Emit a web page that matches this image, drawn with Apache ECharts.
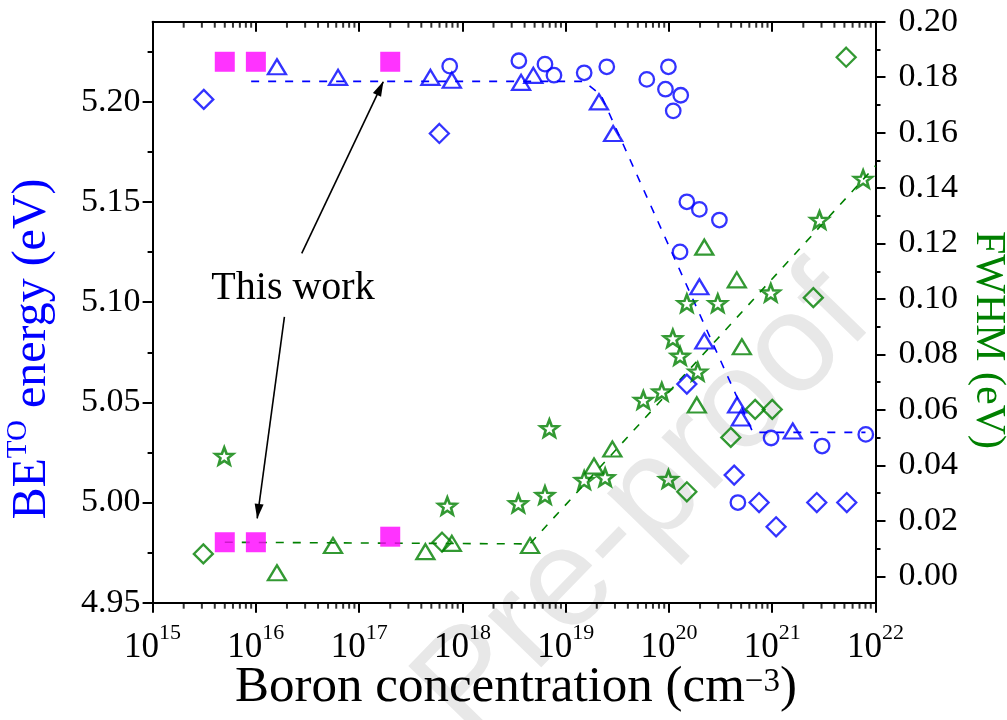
<!DOCTYPE html>
<html>
<head>
<meta charset="utf-8">
<script src="https://cdn.jsdelivr.net/npm/echarts@6/dist/echarts.min.js"></script>
<style>
html,body{margin:0;padding:0;background:#fff;}
#chart{width:1007px;height:720px;}
</style>
</head>
<body>
<div id="chart"></div>
<script>
// BE^TO energy (left axis) and FWHM (right axis) against boron concentration

// --- this work (filled squares) ---
const thisWorkX    = [5e15, 1e16, 2e17];
const thisWorkBE   = [5.22, 5.22, 5.22];
const thisWorkFWHM = [0.0123, 0.0123, 0.0143];

// --- BE^TO energy, literature (blue, hollow) ---
const beTriX = [1.6e16, 6.25e16, 4.9e17, 7.9e17, 3.7e18, 4.86e18, 2.1e19, 2.88e19, 1.97e20, 2.2e20, 4.57e20, 4.97e20, 1.58e21];
const beTriY = [5.2175, 5.2122, 5.2122, 5.2108, 5.2097, 5.2132, 5.2000, 5.1842, 5.1077, 5.0806, 5.0487, 5.0422, 5.0357];

const beCircX = [7.53e17, 3.52e18, 6.3e18, 7.7e18, 1.51e19, 2.5e19, 6.1e19, 9.88e19, 9.25e19, 1.3e20, 1.1e20, 1.49e20, 1.97e20, 3.08e20, 1.28e20, 9.75e20, 3.04e21, 8.05e21, 4.65e20];
const beCircY = [5.2178, 5.2205, 5.2188, 5.2133, 5.2145, 5.2175, 5.2112, 5.2175, 5.2063, 5.2033, 5.1955, 5.1501, 5.1463, 5.1410, 5.1251, 5.0322, 5.0282, 5.0340, 5.0000];

const beDiaX = [3.13e15, 5.98e17, 1.49e20, 4.28e20, 7.46e20, 1.09e21, 2.7e21, 5.27e21];
const beDiaY = [5.2012, 5.1842, 5.0591, 5.0137, 5.0000, 4.9879, 5.0000, 5.0000];

// guide line through the BE data
const beGuideX = [9e15, 1.5e19, 2.2e19, 6.5e20, 8e21];
const beGuideY = [5.2102, 5.2102, 5.2033, 5.0350, 5.0350];

// --- FWHM, literature (green, hollow) ---
const fwStarX = [4.94e15, 7.14e17, 3.48e18, 6.3e18, 6.95e18, 1.51e19, 2.41e19, 5.65e19, 8.52e19, 9.88e19, 1.9e20, 1.28e20, 1.09e20, 1.49e20, 2.97e20, 9.68e20, 2.87e21, 7.59e21];
const fwStarY = [0.0434, 0.0254, 0.0263, 0.0293, 0.0534, 0.0347, 0.0357, 0.0636, 0.0666, 0.0351, 0.0738, 0.0795, 0.0858, 0.0985, 0.0985, 0.1023, 0.1285, 0.1433];

const fwTriX = [1.6e16, 5.58e16, 4.38e17, 7.9e17, 4.52e18, 1.88e19, 2.83e19, 1.86e20, 2.2e20, 4.54e20, 5.08e20];
const fwTriY = [0.0013, 0.0111, 0.0089, 0.0119, 0.0111, 0.0398, 0.0459, 0.0618, 0.1187, 0.1069, 0.0828];

const fwDiaX = [3.1e15, 6.35e17, 1.49e20, 3.97e20, 6.83e20, 1.0e21, 2.5e21, 5.2e21];
const fwDiaY = [0.0081, 0.0123, 0.0305, 0.0501, 0.0602, 0.0602, 0.1005, 0.1872];

// guide line through the FWHM data
const fwGuideX = [5e15, 4.5e18, 1e22];
const fwGuideY = [0.0123, 0.0117, 0.148];

// --- "This work" arrows (tail -> tip), in BE axis units ---
const arrowTailX = [2.78e16, 1.89e16];
const arrowTailY = [5.1244, 5.0927];
const arrowTipX  = [1.71e17, 1.03e16];
const arrowTipY  = [5.2100, 4.9921];

// --- axis ticks ---
const xDecades = [15, 16, 17, 18, 19, 20, 21];
const xMinorMultipliers = [2, 3, 4, 5, 6, 7, 8, 9];
const leftTicks = [4.95, 5.00, 5.05, 5.10, 5.15, 5.20];
const leftMinorTicks = [4.975, 5.025, 5.075, 5.125, 5.175, 5.225];
const rightTicks = [0.00, 0.02, 0.04, 0.06, 0.08, 0.10, 0.12, 0.14, 0.16, 0.18, 0.20];
const rightMinorTicks = [0.01, 0.03, 0.05, 0.07, 0.09, 0.11, 0.13, 0.15, 0.17, 0.19];

const xMinorTicks = [];
xDecades.forEach(d => xMinorMultipliers.forEach(m => xMinorTicks.push(m * Math.pow(10, d))));

const SERIF = "'Liberation Serif', 'Times New Roman', serif";
const SANS = "'Liberation Sans', Arial, sans-serif";
const BLUE = '#0000ff', GREEN = '#008000', MAGENTA = '#ff00ff';
const STAR = 'path://M50,0 L62.34,33.01 L97.55,34.55 L69.97,56.49 L79.39,90.45 L50,71 L20.61,90.45 L30.03,56.49 L2.45,34.55 L37.66,33.01 Z';

const X_MIN = 1e15, X_MAX = 1e22;
const L_MIN = 4.95, L_MAX = 5.24;
const R_MIN = -0.0095, R_MAX = 0.20;

const zip = (xs, ys) => xs.map((x, i) => [x, ys[i]]);
const axisLine = { show: true, onZero: false, lineStyle: { color: '#000', width: 2 } };
const noLine = { show: false, onZero: false };
const tickStyle = { color: '#000', width: 2 };

function hollow(name, yAxisIndex, xs, ys, symbol, size, color, bw) {
  return {
    name, type: 'scatter', xAxisIndex: 0, yAxisIndex,
    data: zip(xs, ys), symbol, symbolSize: size,
    itemStyle: { color: 'rgba(0,0,0,0)', borderColor: color, borderWidth: bw },
    emphasis: { disabled: true }, z: 3
  };
}

// short tick marks of the log axis, hung below (bottom) or inside (top) the frame
function logMinorTicks(name, edgeValue) {
  return {
    name, type: 'scatter', xAxisIndex: 0, yAxisIndex: 0, clip: false, silent: true,
    data: xMinorTicks.map(v => [v, edgeValue]),
    symbol: 'rect', symbolSize: [2, 6], symbolOffset: [0, 3],
    itemStyle: { color: '#000' }, emphasis: { disabled: true }, z: 5
  };
}

function xAxisBase(position) {
  return {
    type: 'log', logBase: 10, min: X_MIN, max: X_MAX, position,
    splitLine: { show: false }, minorTick: { show: false }, minorSplitLine: { show: false }
  };
}
function yAxisBase(position, min, max) {
  return {
    type: 'value', min, max, position,
    splitLine: { show: false }, minorTick: { show: false }
  };
}

// rich-text styles for titles: superscripts are lifted with bottom padding
function supRich(bigSize, supSize, lift, color, lineHeight) {
  return {
    a: { fontFamily: SERIF, fontSize: bigSize, fill: color, color, lineHeight, verticalAlign: 'middle' },
    s: { fontFamily: SERIF, fontSize: supSize, fill: color, color, lineHeight, verticalAlign: 'middle', padding: [0, 0, lift * 2, 0] }
  };
}

const chart = echarts.init(document.getElementById('chart'), null, { renderer: 'canvas' });

const arrowData = arrowTailX.map((x, i) => [
  { coord: [x, arrowTailY[i]] },
  { coord: [arrowTipX[i], arrowTipY[i]] }
]);

const option = {
  animation: false,
  backgroundColor: '#ffffff',
  grid: { left: 152.6, right: 131.5, top: 21.7, bottom: 117.3, containLabel: false, outerBoundsMode: 'none' },
  xAxis: [
    // bottom axis: line, major ticks and the "10" of each power label
    Object.assign(xAxisBase('bottom'), {
      axisLine,
      axisTick: { show: true, inside: false, length: 10, lineStyle: tickStyle },
      axisLabel: {
        margin: 28, formatter: () => '10', align: 'center', padding: [0, 22, 0, 0],
        fontFamily: SERIF, fontSize: 35, color: '#000'
      }
    }),
    // top mirror axis
    Object.assign(xAxisBase('top'), {
      axisLine,
      axisTick: { show: true, inside: true, length: 10, lineStyle: tickStyle },
      axisLabel: { show: false }
    }),
    // exponents of the bottom labels
    Object.assign(xAxisBase('bottom'), {
      axisLine: noLine,
      axisTick: { show: false },
      axisLabel: {
        margin: 20, formatter: v => String(Math.round(Math.log10(v))), align: 'left', padding: [0, 0, 0, 6.5],
        fontFamily: SERIF, fontSize: 22, color: '#000'
      }
    })
  ],
  yAxis: [
    Object.assign(yAxisBase('left', L_MIN, L_MAX), {
      axisLine,
      axisTick: { show: true, inside: false, length: 10, lineStyle: tickStyle, customValues: leftTicks },
      axisLabel: {
        customValues: leftTicks, margin: 12, formatter: v => v.toFixed(2),
        fontFamily: SERIF, fontSize: 34, color: '#000'
      }
    }),
    Object.assign(yAxisBase('right', R_MIN, R_MAX), {
      axisLine,
      axisTick: { show: true, inside: false, length: 10, lineStyle: tickStyle, customValues: rightTicks },
      axisLabel: {
        customValues: rightTicks, margin: 23, formatter: v => v.toFixed(2),
        fontFamily: SERIF, fontSize: 34, color: '#000'
      }
    }),
    Object.assign(yAxisBase('left', L_MIN, L_MAX), {
      axisLine: noLine,
      axisTick: { show: true, inside: false, length: 5, lineStyle: tickStyle, customValues: leftMinorTicks },
      axisLabel: { show: false }
    }),
    Object.assign(yAxisBase('right', R_MIN, R_MAX), {
      axisLine: noLine,
      axisTick: { show: true, inside: false, length: 5, lineStyle: tickStyle, customValues: rightMinorTicks },
      axisLabel: { show: false }
    })
  ],
  graphic: [
    {
      type: 'text', z: -10, x: 645, y: 505, rotation: 0.80,
      style: { text: 'Pre-proof', fontFamily: SANS, fontSize: 140, fill: '#e8e8e8', align: 'center', verticalAlign: 'middle' }
    },
    {
      type: 'text', z: 10, x: 293, y: 288,
      style: { text: 'This work', fontFamily: SERIF, fontSize: 40, fill: '#000', align: 'center', verticalAlign: 'middle' }
    },
    {
      type: 'text', z: 10, x: 516, y: 688,
      style: {
        text: '{a|Boron concentration (cm}{s|\u22123}{a|)}',
        align: 'center', verticalAlign: 'middle',
        rich: supRich(51, 33, 6, '#000', 64)
      }
    },
    {
      type: 'text', z: 10, x: 32, y: 349, rotation: Math.PI / 2,
      style: {
        text: '{a|BE}{s|TO}{a| energy (eV)}',
        align: 'center', verticalAlign: 'middle',
        rich: supRich(48, 29, 13.5, BLUE, 60)
      }
    },
    {
      type: 'text', z: 10, x: 988, y: 340, rotation: -Math.PI / 2,
      style: { text: 'FWHM (eV)', fontFamily: SERIF, fontSize: 42, fill: GREEN, align: 'center', verticalAlign: 'middle' }
    }
  ],
  series: [
    logMinorTicks('minor ticks bottom', L_MIN),
    logMinorTicks('minor ticks top', L_MAX),
    {
      name: 'BE guide', type: 'line', xAxisIndex: 0, yAxisIndex: 0,
      data: zip(beGuideX, beGuideY), symbol: 'none', silent: true, z: 2,
      lineStyle: { color: BLUE, width: 1.6, type: [8, 9] },
      markLine: {
        silent: true, animation: false,
        symbol: ['none', 'triangle'], symbolSize: [9, 15], symbolOffset: [[0, 0], [0, 7]],
        label: { show: false }, emphasis: { disabled: true },
        lineStyle: { color: '#000', width: 1.6, type: 'solid' },
        data: arrowData
      }
    },
    {
      name: 'FWHM guide', type: 'line', xAxisIndex: 0, yAxisIndex: 1,
      data: zip(fwGuideX, fwGuideY), symbol: 'none', silent: true, z: 2,
      lineStyle: { color: GREEN, width: 1.6, type: [8, 9] }
    },
    hollow('BE triangles', 0, beTriX, beTriY, 'triangle', [18, 15], BLUE, 2.3),
    hollow('BE circles', 0, beCircX, beCircY, 'circle', 14.5, BLUE, 2.3),
    hollow('BE diamonds', 0, beDiaX, beDiaY, 'diamond', 19, BLUE, 2.3),
    hollow('FWHM stars', 1, fwStarX, fwStarY, STAR, [18, 17], GREEN, 2.6),
    hollow('FWHM triangles', 1, fwTriX, fwTriY, 'triangle', [18, 15], GREEN, 2.3),
    hollow('FWHM diamonds', 1, fwDiaX, fwDiaY, 'diamond', 19, GREEN, 2.3),
    {
      name: 'This work BE', type: 'scatter', xAxisIndex: 0, yAxisIndex: 0,
      data: zip(thisWorkX, thisWorkBE), symbol: 'rect', symbolSize: 20,
      itemStyle: { color: MAGENTA }, emphasis: { disabled: true }, z: 4
    },
    {
      name: 'This work FWHM', type: 'scatter', xAxisIndex: 0, yAxisIndex: 1,
      data: zip(thisWorkX, thisWorkFWHM), symbol: 'rect', symbolSize: 20,
      itemStyle: { color: MAGENTA }, emphasis: { disabled: true }, z: 4
    }
  ]
};

chart.setOption(option);
</script>
</body>
</html>
